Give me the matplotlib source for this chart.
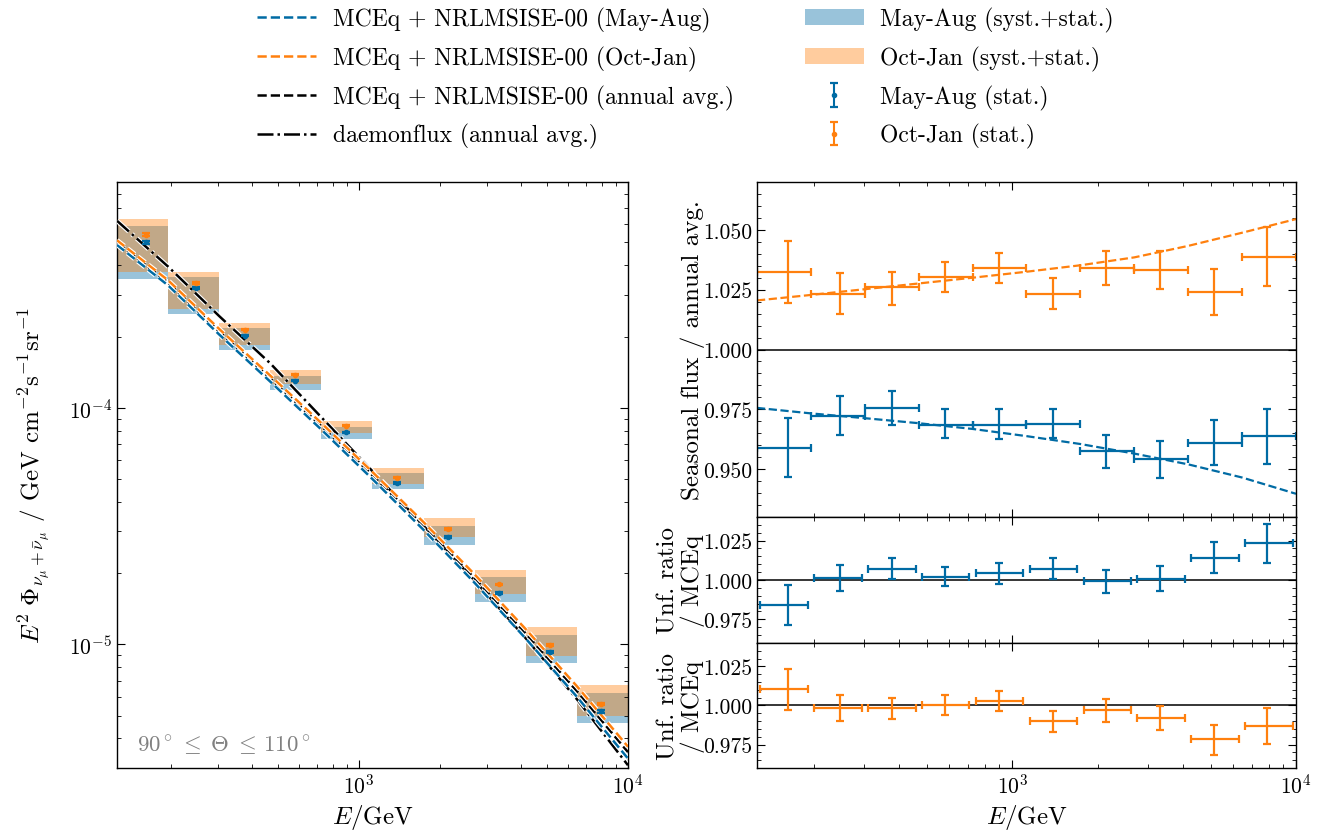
import numpy as np
import matplotlib
matplotlib.use('Agg')
import matplotlib.pyplot as plt
from matplotlib.patches import Patch
import matplotlib.patheffects as pe
from matplotlib.ticker import MultipleLocator, FormatStrFormatter

# ---------------- data ----------------
bin_edges = [125.9, 195.0, 302.0, 467.7, 724.4, 1122.0, 1737.8, 2691.5, 4168.7, 6456.5, 10000.0]
E_points = [162, 247, 377, 580, 897, 1387, 2141, 3311, 5129, 7925]

# left panel: unfolded flux (E^2 Phi)
mayaug_flux = [5.0e-4, 3.2e-4, 2.02e-4, 1.30e-4, 7.87e-5, 4.81e-5, 2.84e-5, 1.65e-5, 9.28e-6, 5.2e-6]
octjan_flux = [5.39e-4, 3.37e-4, 2.14e-4, 1.38e-4, 8.4e-5, 5.07e-5, 3.07e-5, 1.79e-5, 9.9e-6, 5.6e-6]
mayaug_sys_lo = [3.50e-4, 2.49e-4, 1.76e-4, 1.19e-4, 7.40e-5, 4.52e-5, 2.62e-5, 1.51e-5, 8.31e-6, 4.64e-6]
mayaug_sys_hi = [5.88e-4, 3.57e-4, 2.18e-4, 1.365e-4, 8.31e-5, 5.32e-5, 3.17e-5, 1.92e-5, 1.10e-5, 6.21e-6]
octjan_sys_lo = [3.76e-4, 2.62e-4, 1.85e-4, 1.26e-4, 7.85e-5, 4.77e-5, 2.83e-5, 1.63e-5, 8.93e-6, 5.0e-6]
octjan_sys_hi = [6.27e-4, 3.75e-4, 2.28e-4, 1.45e-4, 8.81e-5, 5.58e-5, 3.43e-5, 2.07e-5, 1.18e-5, 6.7e-6]

# model curves, evaluated at bin_edges
mceq_annual = [5.00e-4, 3.38e-4, 2.10e-4, 1.33e-4, 8.36e-5, 5.18e-5, 3.17e-5, 1.90e-5, 1.11e-5, 6.34e-6, 3.50e-6]
daemonflux = [6.17e-4, 3.95e-4, 2.44e-4, 1.54e-4, 9.11e-5, 5.39e-5, 3.17e-5, 1.86e-5, 1.06e-5, 5.86e-6, 3.08e-6]
octjan_ratio_curve = [1.0205, 1.0228, 1.0252, 1.0276, 1.0300, 1.0325, 1.0352, 1.0385, 1.0433, 1.0488, 1.0545]
mayaug_ratio_curve = [0.9756, 0.9733, 0.9713, 0.9692, 0.9668, 0.9638, 0.9605, 0.9565, 0.9520, 0.9465, 0.9397]

# seasonal flux / annual avg.
octjan_season = [1.0325, 1.0232, 1.0260, 1.0302, 1.0342, 1.0230, 1.0339, 1.0332, 1.0240, 1.0385]
octjan_season_hi = [1.0455, 1.0318, 1.0325, 1.0365, 1.0404, 1.0297, 1.0412, 1.0412, 1.0338, 1.0513]
octjan_season_lo = [1.0196, 1.0148, 1.0187, 1.0239, 1.0277, 1.0168, 1.0268, 1.0251, 1.0144, 1.0265]
mayaug_season = [0.9588, 0.9722, 0.9756, 0.9686, 0.9686, 0.9690, 0.9574, 0.9543, 0.9610, 0.9638]
mayaug_season_hi = [0.9714, 0.9806, 0.9825, 0.9750, 0.9750, 0.9753, 0.9641, 0.9617, 0.9704, 0.9753]
mayaug_season_lo = [0.9467, 0.9644, 0.9683, 0.9630, 0.9624, 0.9630, 0.9506, 0.9462, 0.9518, 0.9521]

# unfolded / MCEq
mayaug_unf = [0.9840, 1.0013, 1.0073, 1.0021, 1.0045, 1.0073, 0.9991, 1.0009, 1.0141, 1.0235]
mayaug_unf_hi = [0.9968, 1.0098, 1.0141, 1.0085, 1.0105, 1.0137, 1.0062, 1.0090, 1.0241, 1.0357]
mayaug_unf_lo = [0.9714, 0.9929, 1.0004, 0.9959, 0.9976, 1.0009, 0.9919, 0.9927, 1.0047, 1.0111]
octjan_unf = [1.0105, 0.9987, 0.9987, 1.0006, 1.0028, 0.9902, 0.9972, 0.9919, 0.9786, 0.9868]
octjan_unf_hi = [1.0233, 1.0068, 1.0051, 1.0070, 1.0090, 0.9964, 1.0041, 0.9996, 0.9874, 0.9985]
octjan_unf_lo = [0.9974, 0.9900, 0.9915, 0.9942, 0.9962, 0.9833, 0.9897, 0.9842, 0.9686, 0.9752]

# ---------------- style ----------------
plt.rcParams.update({
    'font.family': 'serif',
    'font.serif': ['cmr10'],
    'mathtext.fontset': 'cm',
    'axes.formatter.use_mathtext': True,
    'axes.unicode_minus': True,
    'font.size': 15.5,
    'axes.labelsize': 18,
    'xtick.labelsize': 15.5, 'ytick.labelsize': 15.5,
    'xtick.direction': 'in', 'ytick.direction': 'in',
    'xtick.top': True, 'ytick.right': True,
    'xtick.minor.visible': True, 'ytick.minor.visible': True,
    'xtick.major.size': 6, 'ytick.major.size': 6,
    'xtick.minor.size': 3, 'ytick.minor.size': 3,
    'axes.linewidth': 1.0,
})

BLUE = '#006BA4'
ORANGE = '#FF800E'

W, H = 1321, 837
fig = plt.figure(figsize=(W / 100, H / 100), dpi=100)

def ax_rect(x0, y0, x1, y1):
    return [x0 / W, 1 - y1 / H, (x1 - x0) / W, (y1 - y0) / H]

axL = fig.add_axes(ax_rect(117, 183, 628, 769))
axS = fig.add_axes(ax_rect(757, 183, 1296, 518))
axU1 = fig.add_axes(ax_rect(757, 518, 1296, 644), sharex=axS)
axU2 = fig.add_axes(ax_rect(757, 644, 1296, 769), sharex=axS)

edges = np.array(bin_edges)
Ep = np.array(E_points)
lo_e, hi_e = edges[:-1], edges[1:]

# ---------------- left panel ----------------
axL.set_xscale('log')
axL.set_yscale('log')
ma_lo, ma_hi = np.array(mayaug_sys_lo), np.array(mayaug_sys_hi)
oj_lo, oj_hi = np.array(octjan_sys_lo), np.array(octjan_sys_hi)
axL.bar(lo_e, ma_hi - ma_lo, bottom=ma_lo, width=hi_e - lo_e, align='edge',
        color=BLUE, alpha=0.4, lw=0, zorder=1)
axL.bar(lo_e, oj_hi - oj_lo, bottom=oj_lo, width=hi_e - lo_e, align='edge',
        color=ORANGE, alpha=0.4, lw=0, zorder=1)

annual = np.array(mceq_annual)
lw = 1.8
stroke = [pe.Stroke(linewidth=lw + 1.6, foreground='white'), pe.Normal()]
l_dm, = axL.plot(edges, daemonflux, color='k', ls='-.', lw=lw, path_effects=stroke, zorder=3)
l_an, = axL.plot(edges, annual, color='k', ls='--', lw=lw, path_effects=stroke, zorder=3)
l_ma, = axL.plot(edges, annual * np.array(mayaug_ratio_curve), color=BLUE, ls='--', lw=lw,
                 path_effects=stroke, zorder=3)
l_oj, = axL.plot(edges, annual * np.array(octjan_ratio_curve), color=ORANGE, ls='--', lw=lw,
                 path_effects=stroke, zorder=3)

ma_rel = (np.array(mayaug_season_hi) - np.array(mayaug_season_lo)) / 2 / np.array(mayaug_season)
oj_rel = (np.array(octjan_season_hi) - np.array(octjan_season_lo)) / 2 / np.array(octjan_season)
e_ma = axL.errorbar(Ep, mayaug_flux, yerr=np.array(mayaug_flux) * ma_rel, fmt='.', ms=6,
                    color=BLUE, capsize=3, elinewidth=1.5, capthick=1.6, zorder=4)
e_oj = axL.errorbar(Ep, octjan_flux, yerr=np.array(octjan_flux) * oj_rel, fmt='.', ms=6,
                    color=ORANGE, capsize=3, elinewidth=1.5, capthick=1.6, zorder=4)

axL.set_xlim(bin_edges[0], bin_edges[-1])
axL.set_ylim(3e-6, 9e-4)
axL.set_xlabel(r'$E/\mathrm{GeV}$')
axL.set_ylabel(r'$E^2\ \Phi_{\nu_\mu+\bar{\nu}_\mu}$ / GeV cm$^{-2}$s$^{-1}$sr$^{-1}$')
axL.yaxis.set_label_coords(-0.125, 0.5)
axL.text(0.04, 0.018, r'$90^\circ\,\leq\;\Theta\;\leq\,110^\circ$', transform=axL.transAxes,
         color='#808080', ha='left', va='bottom', fontsize=16.5)

# ---------------- right panels ----------------
def errs(v, lo, hi):
    v, lo, hi = np.array(v), np.array(lo), np.array(hi)
    return [v - lo, hi - v]

ekw = dict(fmt='none', capsize=3, elinewidth=1.6, capthick=1.6)

axS.set_xscale('log')
axS.axhline(1.0, color='k', lw=1.1, zorder=1)
axS.plot(edges, octjan_ratio_curve, color=ORANGE, ls='--', lw=1.6, zorder=2)
axS.plot(edges, mayaug_ratio_curve, color=BLUE, ls='--', lw=1.6, zorder=2)
xerr_full = [Ep - lo_e, hi_e - Ep]
axS.errorbar(Ep, octjan_season, yerr=errs(octjan_season, octjan_season_lo, octjan_season_hi),
             xerr=xerr_full, color=ORANGE, **ekw)
axS.errorbar(Ep, mayaug_season, yerr=errs(mayaug_season, mayaug_season_lo, mayaug_season_hi),
             xerr=xerr_full, color=BLUE, **ekw)
axS.set_ylim(0.93, 1.07)
axS.set_ylabel('Seasonal flux / annual avg.')

shrink = 10 ** 0.011
xerr_in = [Ep - lo_e * shrink, hi_e / shrink - Ep]
for ax, v, lo, hi, c in [(axU1, mayaug_unf, mayaug_unf_lo, mayaug_unf_hi, BLUE),
                         (axU2, octjan_unf, octjan_unf_lo, octjan_unf_hi, ORANGE)]:
    ax.axhline(1.0, color='k', lw=1.1, zorder=1)
    ax.errorbar(Ep, v, yerr=errs(v, lo, hi), xerr=xerr_in, color=c, **ekw)
    ax.set_ylim(0.96, 1.04)
    ax.set_ylabel('Unf. ratio\n/ MCEq', linespacing=1.05)

for ax in (axS, axU1, axU2):
    ax.yaxis.set_major_locator(MultipleLocator(0.025))
    ax.yaxis.set_minor_locator(MultipleLocator(0.005))
    ax.yaxis.set_major_formatter(FormatStrFormatter('%.3f'))
    ax.yaxis.set_label_coords(-0.096, 0.5)
axS.set_xlim(bin_edges[0], bin_edges[-1])
axS.tick_params(labelbottom=False)
axU1.tick_params(labelbottom=False)
axU2.set_xlabel(r'$E/\mathrm{GeV}$')

# ---------------- legend ----------------
handles = [l_ma, l_oj, l_an, l_dm,
           Patch(facecolor=BLUE, alpha=0.4, lw=0),
           Patch(facecolor=ORANGE, alpha=0.4, lw=0),
           e_ma, e_oj]
labels = ['MCEq + NRLMSISE-00 (May-Aug)', 'MCEq + NRLMSISE-00 (Oct-Jan)',
          'MCEq + NRLMSISE-00 (annual avg.)', 'daemonflux (annual avg.)',
          'May-Aug (syst.+stat.)', 'Oct-Jan (syst.+stat.)',
          'May-Aug (stat.)', 'Oct-Jan (stat.)']
fig.legend(handles, labels, loc='upper center', bbox_to_anchor=(0.519, 1.016), ncol=2,
           frameon=False, handlelength=2.5, handletextpad=0.7, columnspacing=3.0,
           labelspacing=0.58, fontsize=17)

fig.savefig('out.png', dpi=100)
